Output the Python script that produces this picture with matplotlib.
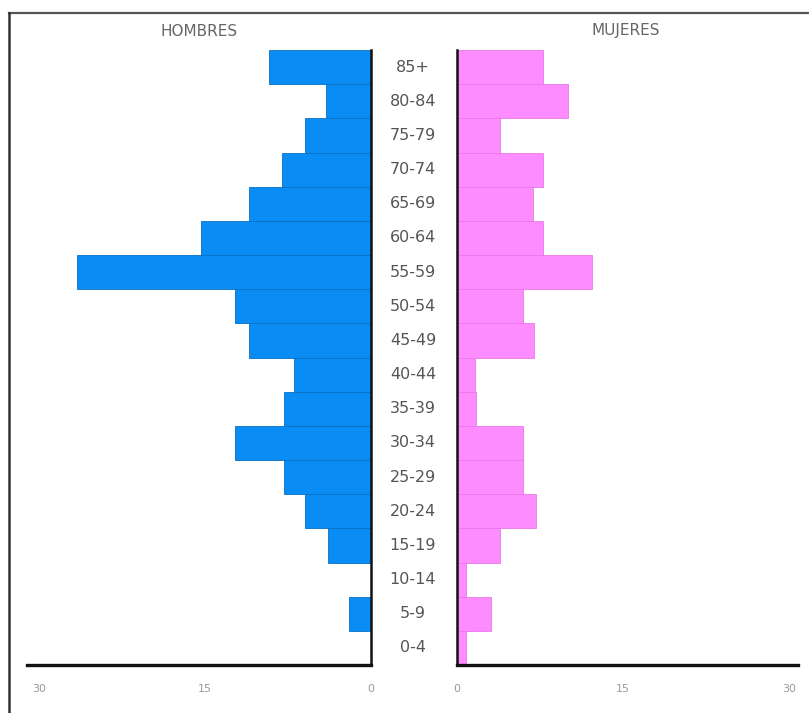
import matplotlib
matplotlib.use("Agg")
import matplotlib.pyplot as plt
from matplotlib.lines import Line2D

ages = ['0-4', '5-9', '10-14', '15-19', '20-24', '25-29', '30-34', '35-39', '40-44',
        '45-49', '50-54', '55-59', '60-64', '65-69', '70-74', '75-79', '80-84', '85+']
hombres = [0, 2.0, 0, 3.9, 6.0, 7.9, 12.3, 7.9, 7.0, 11.0, 12.3, 26.6, 15.4, 11.0, 8.0, 6.0, 4.1, 9.2]
mujeres = [0.8, 3.1, 0.8, 3.9, 7.1, 6.0, 6.0, 1.7, 1.6, 7.0, 6.0, 12.2, 7.8, 6.9, 7.8, 3.9, 10.0, 7.8]
ticks = [0, 15, 30]
tick_labels = ['0', '15', '30']

W, H = 809, 713
fig = plt.figure(figsize=(W / 100, H / 100), dpi=100)
fig.patch.set_facecolor('white')

def fx(px):
    return px / W

def fy(py):
    return 1 - py / H

top_px, bot_px = 50, 665
bottom = fy(bot_px)
height = (bot_px - top_px) / H

# left axes (men)
lx0, lx1 = 27, 371
axL = fig.add_axes([fx(lx0), bottom, fx(lx1 - lx0), height])
# right axes (women)
rx0, rx1 = 457, 798
axR = fig.add_axes([fx(rx0), bottom, fx(rx1 - rx0), height])

y = list(range(len(ages)))
blue = '#0A8CF5'
pink = '#FF8CFF'

axL.barh(y, hombres, height=1.0, color=blue, edgecolor='#0A6FC0', linewidth=0.6)
axR.barh(y, mujeres, height=1.0, color=pink, edgecolor='#E878E8', linewidth=0.6)

pxu_L = (371 - 39) / 30.0
axL.set_xlim((lx1 - lx0) / pxu_L, 0)
pxu_R = (790 - 458) / 30.0
axR.set_xlim(0, (rx1 - rx0) / pxu_R)
for ax in (axL, axR):
    ax.set_ylim(-0.5, len(ages) - 0.5)
    ax.set_yticks([])
    ax.set_xticks(ticks)
    ax.set_xticklabels(tick_labels)
    ax.tick_params(axis='x', length=0, pad=14, labelsize=8, labelcolor='#9a9a9a')
    ax.set_facecolor('none')
    for s in ax.spines.values():
        s.set_visible(False)

axL.spines['bottom'].set_visible(True)
axL.spines['bottom'].set_linewidth(2.4)
axL.spines['right'].set_visible(True)
axL.spines['right'].set_linewidth(1.8)
axR.spines['bottom'].set_visible(True)
axR.spines['bottom'].set_linewidth(2.4)
axR.spines['left'].set_visible(True)
axR.spines['left'].set_linewidth(1.8)
for ax in (axL, axR):
    for s in ax.spines.values():
        s.set_color('#111111')

# age labels in the centre
for i, a in enumerate(ages):
    yc = bot_px - (i + 0.5) * (bot_px - top_px) / len(ages)
    fig.text(fx(413), fy(yc), a, ha='center', va='center', fontsize=11.5,
             color='#555555', family='DejaVu Sans')

fig.text(fx(199), fy(31), 'HOMBRES', ha='center', va='center', fontsize=11, color='#666666')
fig.text(fx(626), fy(31), 'MUJERES', ha='center', va='center', fontsize=11, color='#666666')

# outer frame (top and left)
fig.add_artist(Line2D([fx(9), fx(809)], [fy(13), fy(13)], transform=fig.transFigure,
                      color='#555555', linewidth=1.6))
fig.add_artist(Line2D([fx(9), fx(9)], [fy(13), fy(713)], transform=fig.transFigure,
                      color='#333333', linewidth=1.8))

fig.savefig('out.png', dpi=100)
